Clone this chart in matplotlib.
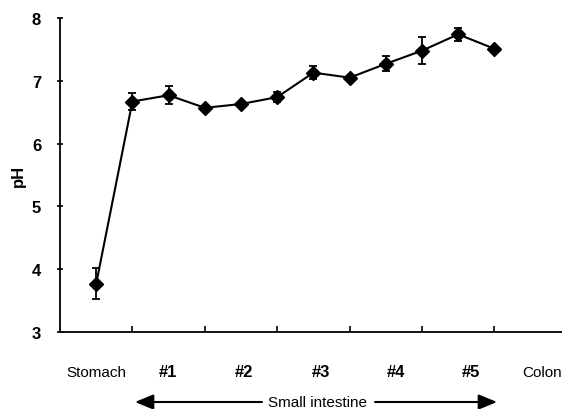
import matplotlib
matplotlib.use("Agg")
import matplotlib.pyplot as plt
from matplotlib.patches import FancyArrowPatch

# ---- data ----
positions = [0.5, 1.0, 1.5, 2.0, 2.5, 3.0, 3.5, 4.0, 4.5, 5.0, 5.5, 6.0]
ph_mean = [3.77, 6.67, 6.77, 6.57, 6.63, 6.74, 7.13, 7.05, 7.27, 7.48, 7.74, 7.51]
ph_err = [0.25, 0.13, 0.14, 0.02, 0.02, 0.08, 0.10, 0.02, 0.12, 0.22, 0.10, 0.0]
segment_labels = ["Stomach", "#1", "#2", "#3", "#4", "#5", "Colon"]
segment_bold = [False, True, True, True, True, True, False]
y_ticks = [3, 4, 5, 6, 7, 8]
x_ticks = [1, 2, 3, 4, 5, 6]

# ---- layout ----
label_x = [0.50, 1.49, 2.54, 3.60, 4.64, 5.67, 6.66]

plt.rcParams['font.family'] = ['Liberation Sans', 'DejaVu Sans']
W, H = 562, 410
fig = plt.figure(figsize=(W / 100, H / 100), dpi=100)
ax = fig.add_axes([60 / W, 1 - 333 / H, 1 - 60 / W, (333 - 19) / H])

ax.errorbar(positions, ph_mean, yerr=ph_err, color='black', lw=1.5,
            marker='D', markersize=7, capsize=3, capthick=1.3, elinewidth=1.3)

ax.set_ylim(3, 8)
ax.set_xlim(0, (W - 60) / 72.4)
ax.set_yticks(y_ticks)
ax.set_yticklabels([str(v) for v in y_ticks], fontsize=12, fontweight='bold')
ax.set_xticks(x_ticks)
ax.set_xticklabels([])
ax.tick_params(axis='x', direction='in', length=4, width=1.2)
ax.tick_params(axis='y', direction='inout', length=5, width=1.2, pad=11)
for s in ['top', 'right']:
    ax.spines[s].set_visible(False)
for s in ['left', 'bottom']:
    ax.spines[s].set_linewidth(1.3)

fig.text(18 / W, 1 - 176 / H, 'pH', rotation=90, ha='center', va='center',
         fontsize=12, fontweight='bold')

label_y = 1 - 373 / H
for x, lab, b in zip(label_x, segment_labels, segment_bold):
    xf = ax.transData.transform((x, 0))[0] / W
    fig.text(xf, label_y, lab, ha='center', va='center',
             fontsize=12 if b else 11, fontweight='bold' if b else 'normal')

# Small intestine arrow
ty = 1 - 403 / H
fig.text(318 / W, ty, 'Small intestine', ha='center', va='center',
         fontsize=11)
for x0, x1 in [(262, 135), (375, 497)]:
    arr = FancyArrowPatch((x0 / W, ty), (x1 / W, ty),
                          transform=fig.transFigure,
                          arrowstyle='-|>,head_length=0.8,head_width=0.33',
                          mutation_scale=14, color='black', lw=1.5,
                          shrinkA=0, shrinkB=0)
    fig.patches.append(arr)

fig.savefig('out.png', dpi=100)
